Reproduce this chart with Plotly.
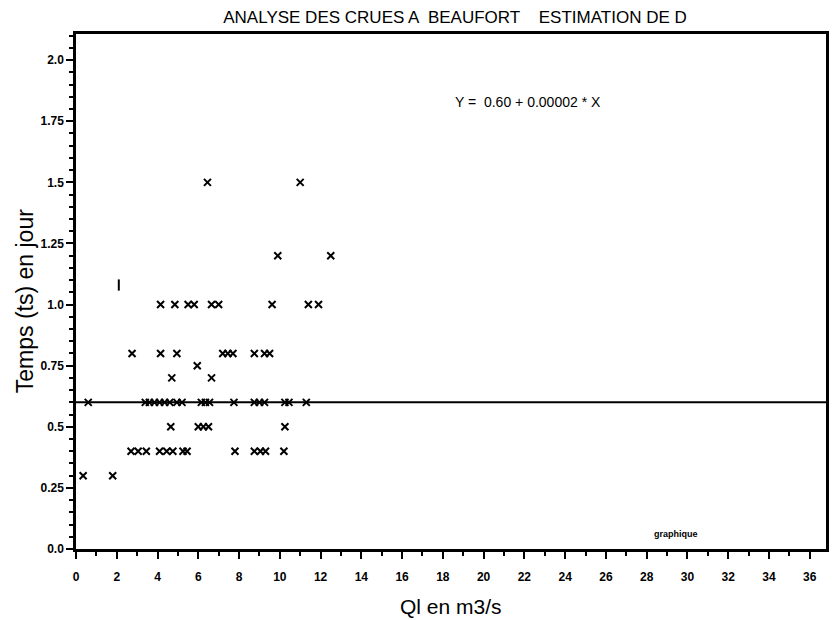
import plotly.graph_objects as go

# ---- data ----
x_15 = [6.45, 11.0]
y_15 = [1.5, 1.5]
x_12 = [9.9, 12.5]
y_12 = [1.2, 1.2]
x_10 = [4.15, 4.85, 5.5, 5.8, 6.65, 7.0, 9.62, 11.4, 11.9]
x_08 = [2.75, 4.15, 4.95, 7.2, 7.45, 7.7, 8.75, 9.25, 9.5]
x_075 = [5.95]
x_07 = [4.7, 6.65]
x_06 = [0.6, 3.4, 3.6, 3.85, 4.1, 4.35, 4.6, 4.95, 5.2,
        6.15, 6.35, 6.55, 7.75, 8.75, 9.0, 9.25, 10.25, 10.45, 11.3]
x_05 = [4.65, 6.0, 6.25, 6.5, 10.25]
x_04 = [2.7, 3.05, 3.45, 4.1, 4.45, 4.75, 5.25, 5.45, 7.8, 8.75, 9.05, 9.3, 10.2]
x_03 = [0.35, 1.8]
stray_x = [2.1]
stray_y = [1.08]

fit_a = 0.60
fit_b = 0.00002
fit_x = [0.0, 36.8]

x_ticks = list(range(0, 37, 2))
y_ticks = [0.0, 0.25, 0.5, 0.75, 1.0, 1.25, 1.5, 1.75, 2.0]
y_tick_text = ["0.0", "0.25", "0.5", "0.75", "1.0", "1.25", "1.5", "1.75", "2.0"]

title_text = "ANALYSE DES CRUES A  BEAUFORT    ESTIMATION DE D"
eq_text = "Y =  0.60 + 0.00002 * X"
x_title = "Ql en m3/s"
y_title = "Temps (ts) en jour"

# ---- assemble points ----
xs, ys = [], []
for xv, yv in [(x_15, 1.5), (x_12, 1.2), (x_10, 1.0), (x_08, 0.8), (x_075, 0.75),
               (x_07, 0.7), (x_06, 0.6), (x_05, 0.5), (x_04, 0.4), (x_03, 0.3)]:
    xs += xv
    ys += [yv] * len(xv)

L, R, T, B = 76, 829, 34, 549
W, H = 833, 620

fig = go.Figure()
fig.add_trace(go.Scatter(
    x=fit_x, y=[fit_a + fit_b * v for v in fit_x], mode="lines",
    line=dict(color="black", width=2), hoverinfo="skip", showlegend=False))
fig.add_trace(go.Scatter(
    x=xs, y=ys, mode="markers",
    marker=dict(symbol="x-thin", size=7, line=dict(width=2, color="black"), color="black"),
    showlegend=False))
fig.add_trace(go.Scatter(
    x=stray_x, y=stray_y, mode="markers",
    marker=dict(symbol="line-ns", size=8, line=dict(width=2, color="black")),
    showlegend=False))

fig.add_annotation(text=eq_text, xref="paper", yref="paper",
                   x=(455 - L) / (R - L), y=(B - 102) / (B - T),
                   xanchor="left", yanchor="middle", showarrow=False,
                   font=dict(family="Liberation Sans", size=14, color="black"))
fig.add_annotation(text="graphique", xref="paper", yref="paper",
                   x=(678 - L) / (R - L), y=(B - 534) / (B - T),
                   xanchor="center", yanchor="middle", showarrow=False,
                   font=dict(family="Liberation Sans", size=9, color="black", weight="bold"))
fig.add_annotation(text=y_title, xref="paper", yref="paper",
                   x=(25 - L) / (R - L), y=(B - 301) / (B - T),
                   xanchor="center", yanchor="middle", textangle=-90, showarrow=False,
                   font=dict(family="Liberation Sans", size=23, color="black"))
fig.add_annotation(text=x_title, xref="paper", yref="paper",
                   x=(452 - L) / (R - L), y=(B - 606) / (B - T),
                   xanchor="center", yanchor="middle", showarrow=False,
                   font=dict(family="Liberation Sans", size=21, color="black"))

axis_common = dict(
    showline=True, linecolor="black", linewidth=2.5, mirror=True,
    ticks="outside", ticklen=7, tickwidth=2, tickcolor="black",
    showgrid=False, zeroline=False,
    tickfont=dict(family="Liberation Sans", size=12, color="black", weight="bold"),
)

fig.update_layout(
    width=W, height=H,
    margin=dict(l=L, r=W - R, t=T, b=H - B),
    paper_bgcolor="white", plot_bgcolor="white",
    title=dict(text=title_text, x=455 / W, xanchor="center", y=1 - 17 / H,
               yanchor="middle",
               font=dict(family="Liberation Sans", size=17, color="black")),
    xaxis=dict(range=[0, 36.8], tickmode="array", tickvals=x_ticks,
               ticktext=[str(v) for v in x_ticks], ticklabelstandoff=8,
               minor=dict(tickmode="linear", tick0=0, dtick=1, ticks="outside",
                          ticklen=4, tickwidth=1.5, tickcolor="black"),
               **axis_common),
    yaxis=dict(range=[0, 2.107], tickmode="array", tickvals=y_ticks,
               ticktext=y_tick_text,
               minor=dict(tickmode="linear", tick0=0, dtick=0.05, ticks="outside",
                          ticklen=4, tickwidth=1.5, tickcolor="black"),
               **axis_common),
)

fig.write_html("out.html")
